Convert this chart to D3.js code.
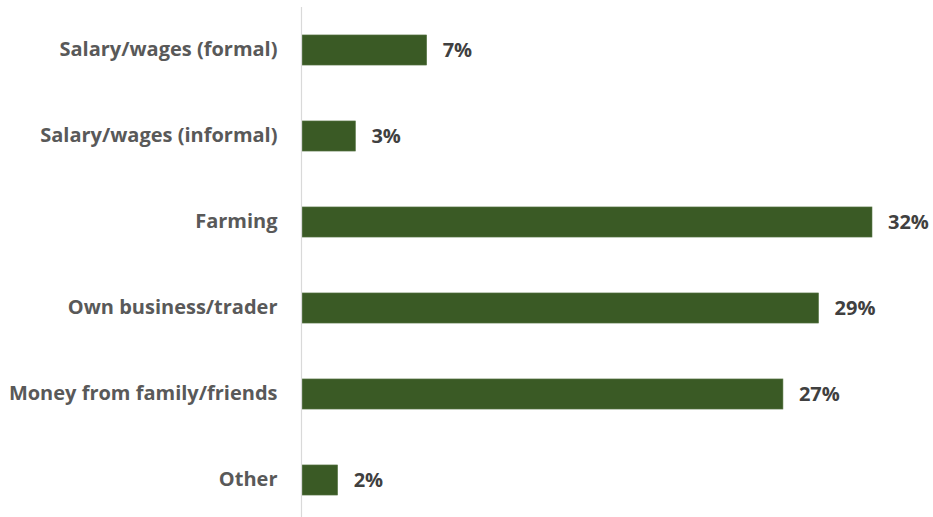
<!DOCTYPE html>
<html>
<head>
<meta charset="utf-8">
<script src="https://cdn.jsdelivr.net/npm/d3@7"></script>
<style>
  html, body { margin: 0; padding: 0; background: #ffffff; }
  svg { display: block; }
</style>
</head>
<body>
<svg id="chart" width="933" height="517"></svg>
<script>
// Main source of income (share of respondents)
const categories = [
  "Salary/wages (formal)",
  "Salary/wages (informal)",
  "Farming",
  "Own business/trader",
  "Money from family/friends",
  "Other"
];
const values = [7, 3, 32, 29, 27, 2];
const valueLabels = ["7%", "3%", "32%", "29%", "27%", "2%"];

const svg = d3.select("#chart");
const plotLeft = 302, plotRight = 872, plotTop = 7, plotBottom = 523;

const x = d3.scaleLinear().domain([0, 32]).range([plotLeft, plotRight]);
const y = d3.scaleBand().domain(categories).range([plotTop, plotBottom]).paddingInner(0.65).paddingOuter(0.325);

const fontFamily = "'Open Sans', 'Noto Sans', sans-serif";

// bars
svg.append("g").selectAll("rect")
  .data(categories)
  .join("rect")
  .attr("x", x(0))
  .attr("y", d => y(d))
  .attr("width", (d, i) => x(values[i]) - x(0))
  .attr("height", y.bandwidth())
  .attr("fill", "#3a5a25")
  .attr("stroke", "#5d7a4a")
  .attr("stroke-width", 0.6);

// vertical category axis
const yAxis = d3.axisLeft(y).tickSize(0).tickPadding(24);
const gy = svg.append("g").attr("transform", `translate(${plotLeft - 0.5},0)`).call(yAxis);
gy.select(".domain").attr("stroke", "#d9d9d9").attr("stroke-width", 1.2)
  .attr("d", `M0,${plotTop}V517`);
gy.selectAll("text")
  .attr("font-family", fontFamily)
  .attr("font-weight", "bold")
  .attr("font-size", 20)
  .attr("fill", "#595959");

// value labels
svg.append("g").selectAll("text")
  .data(categories)
  .join("text")
  .attr("x", (d, i) => x(values[i]) + 16)
  .attr("y", d => y(d) + y.bandwidth() / 2)
  .attr("dy", "0.35em")
  .attr("font-family", fontFamily)
  .attr("font-weight", "bold")
  .attr("font-size", 20)
  .attr("fill", "#404040")
  .text((d, i) => valueLabels[i]);
</script>
</body>
</html>
